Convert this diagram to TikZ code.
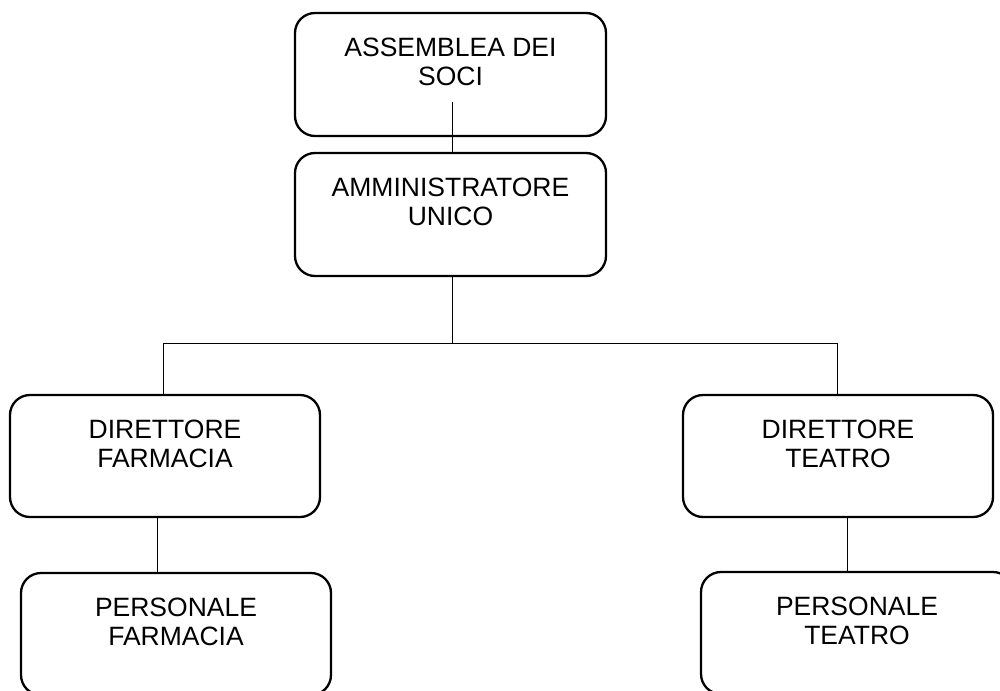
\documentclass[tikz,border=0pt]{standalone}
\usepackage{fontspec}
\setmainfont{Liberation Sans}
\newcommand{\orgtext}[2]{\begin{minipage}[c][#1][t]{290pt}\centering\fontsize{26.5}{29.5}\selectfont\vspace*{24.5pt}#2\end{minipage}}
\begin{document}
\begin{tikzpicture}[x=1pt,y=-1pt,
  orgbox/.style={draw=black, line width=2.3pt, rounded corners=20pt, inner sep=0pt,
    minimum width=311pt, minimum height=123pt},
  link/.style={draw=black, line width=1pt}]
\useasboundingbox (0,0) rectangle (1000,690);
\fill[white] (0,0) rectangle (1000,690);
\node[orgbox] (b1) at (450.5,74.5) {\orgtext{123pt}{ASSEMBLEA DEI\\SOCI}};
\node[orgbox] (b2) at (450.5,214.5) {\orgtext{123pt}{AMMINISTRATORE\\UNICO}};
\node[orgbox, minimum width=310pt, minimum height=122pt] (b3) at (165,456) {\orgtext{122pt}{DIRETTORE\\FARMACIA}};
\node[orgbox, minimum width=310pt, minimum height=122pt] (b4) at (838,456) {\orgtext{122pt}{DIRETTORE\\TEATRO}};
\node[orgbox, minimum width=310pt, minimum height=122pt] (b5) at (176,634) {\orgtext{122pt}{PERSONALE\\FARMACIA}};
\node[orgbox, minimum width=312pt, minimum height=122pt] (b6) at (857,633) {\orgtext{122pt}{PERSONALE\\TEATRO}};
\coordinate (c1) at (452,102);
\coordinate (j) at (452,343);
\coordinate (L) at (163,343);
\coordinate (R) at (837,343);
\coordinate (d1) at (157,0);
\coordinate (d2) at (847,0);
\draw[link] (c1) -- (c1 |- b2.north);
\draw[link] (b2.south -| j) -- (j);
\draw[link] (b3.north -| L) -- (L) -- (R) -- (R |- b4.north);
\draw[link] (b3.south -| d1) -- (b5.north -| d1);
\draw[link] (b4.south -| d2) -- (b6.north -| d2);
\end{tikzpicture}
\end{document}
